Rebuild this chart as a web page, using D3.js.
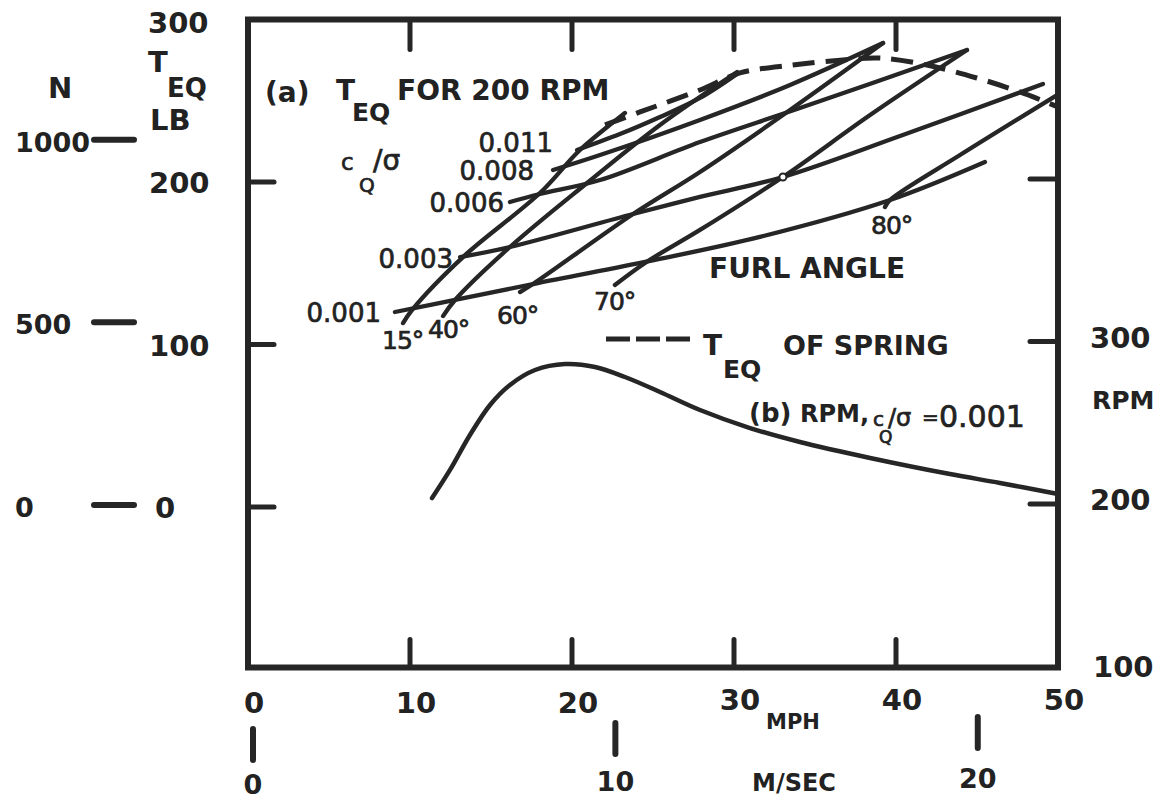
<!DOCTYPE html>
<html>
<head>
<meta charset="utf-8">
<script src="https://cdn.jsdelivr.net/npm/d3@7"></script>
<style>
  body { margin: 0; background: #ffffff; }
  svg { display: block; }
  text { font-family: "DejaVu Sans", "Liberation Sans", sans-serif; fill: #222; }
  .b { font-weight: bold; }
  .m { stroke: #222; stroke-width: 0.7px; }
</style>
</head>
<body>
<svg id="chart" width="1161" height="801"></svg>
<script>
// ---- axis ticks ----
const mphTicks = [0, 10, 20, 30, 40, 50];
const mpsTicks = [0, 10, 20];
const lbTicks = [0, 100, 200];
const newtonTicks = [0, 500, 1000];
const rpmTicks = [100, 200, 300];
const innerMph = [10, 20, 30, 40];
const innerLb = [0, 100, 200];

// ---- (a) equilibrium torque for 200 rpm: [mph, lb] ----
// curves of constant cQ/sigma
const cq001 = [[9.07,120],[12.78,127.4],[17.59,137.2],[24.51,150.8],[31.6,166.2],[39.63,188.9],[45.49,212.3]];
const cq003 = [[13.09,153.8],[16.17,160],[23.77,180.3],[27.9,190.8],[33.02,203.1],[40.25,228.3],[49.07,260.3]];
const cq006 = [[16.17,187.7],[18.02,192.6],[21.73,201.2],[27.9,224.6],[34.07,245.5],[44.38,281.2]];
const cq008 = [[18.83,207.4],[21.73,216.6],[27.9,238.2],[33.46,259.7],[39.2,285.5]];
const cq011 = [[20.31,219.7],[22.96,229.5],[25.43,240],[27.9,251.7],[30.19,266.5]];
// curves of constant furl angle
const furl15 = [[9.57,113.2],[10.12,121.2],[13.27,153.8],[18.02,193.2],[20.49,219.7],[23.27,242.5]];
const furl40 = [[12.04,117.5],[12.78,127.4],[16.17,160],[20.93,199.4],[25.43,235.1],[30.19,267.7]];
const furl60 = [[16.79,132.3],[17.59,137.2],[23.77,180.3],[27.9,206.2],[33.46,244.3],[39.2,285.5]];
const furl70 = [[22.65,136.6],[24.51,150.2],[27.9,170.5],[33.02,203.1],[38.4,241.2],[44.38,281.2]];
const furl80 = [[39.32,184.6],[39.63,188.9],[43.95,216.6],[49.94,253.5]];
// equilibrium torque of the spring
const spring = [[22.04,235.1],[24.2,243.1],[27.9,256.6],[30.37,267.1],[33.64,272],[36.73,275.1],[39.01,276.3],[41.91,272],[44.99,264],[47.65,255.4],[50,246.2]];

// ---- (b) rotor speed, cQ/sigma = 0.001: [mph, rpm] ----
const rpmCurve = [[11.36,205.5],[12.47,222.8],[13.7,244.3],[14.94,262.8],[16.17,275.1],[17.72,284.3],[19.57,288],[21.42,286.2],[23.27,280],[25.43,270.8],[27.9,259.7],[30.99,248.6],[34.07,240],[38.4,230.2],[43.33,220.3],[46.42,214.8],[50,208]];

const svg = d3.select("#chart");
const ink = "#262626";

// scales (all vertical scales share one frame)
const x = d3.scaleLinear().domain([0, 50]).range([248, 1058]);
const xMs = d3.scaleLinear().domain([0, 50 * 0.44704]).range([248, 1058]);
const yLb = d3.scaleLinear().domain([-100, 300]).range([669.5, 19.5]);
const yRpm = d3.scaleLinear().domain([100, 500]).range([669.5, 19.5]);
const yN = d3.scaleLinear().domain([-100 * 4.44822, 300 * 4.44822]).range([669.5, 19.5]);

const [x0, x1] = x.range();
const [yb, yt] = yLb.range();

// frame
svg.append("rect")
  .attr("x", x0).attr("y", yt).attr("width", x1 - x0).attr("height", yb - yt - 2)
  .attr("fill", "none").attr("stroke", ink).attr("stroke-width", 6);

// inner ticks
const tickG = svg.append("g").attr("stroke", ink).attr("stroke-width", 5).attr("stroke-linecap", "round");
innerMph.forEach(v => {
  tickG.append("line").attr("x1", x(v)).attr("x2", x(v)).attr("y1", yt).attr("y2", yt + 30);
  tickG.append("line").attr("x1", x(v)).attr("x2", x(v)).attr("y1", yb - 2).attr("y2", yb - 30);
});
innerLb.forEach(v => {
  tickG.append("line").attr("x1", x0).attr("x2", x0 + 26).attr("y1", yLb(v)).attr("y2", yLb(v));
  tickG.append("line").attr("x1", x1).attr("x2", x1 - 28).attr("y1", yLb(v) - 3).attr("y2", yLb(v) - 3);
});

// left torque axis labels
const lbG = svg.append("g").attr("class", "b").style("font-size", "29px");
lbTicks.forEach(v => {
  lbG.append("text").attr("x", v === 0 ? 155 : 149).attr("y", yLb(v) + 11).text(v);
});
lbG.append("text").attr("x", 148).attr("y", 33).text("300");
lbG.append("text").attr("x", 148).attr("y", 72).text("T");
lbG.append("text").attr("x", 167).attr("y", 97).style("font-size", "26px").text("EQ");
lbG.append("text").attr("x", 150).attr("y", 130).text("LB");

// newton axis
const nG = svg.append("g").attr("class", "b").style("font-size", "27px");
nG.append("text").attr("x", 48).attr("y", 98).style("font-size", "29px").text("N");
newtonTicks.forEach(v => {
  nG.append("text").attr("x", 15).attr("y", yN(v) + 10).text(v);
  nG.append("line").attr("x1", 94).attr("x2", 134).attr("y1", yN(v) - 2).attr("y2", yN(v) - 2)
    .attr("stroke", ink).attr("stroke-width", 6).attr("stroke-linecap", "round");
});

// right rpm axis
const rG = svg.append("g").attr("class", "b").style("font-size", "29px");
rpmTicks.forEach(v => {
  rG.append("text").attr("x", v === 100 ? 1093 : 1090).attr("y", yRpm(v) + (v === 100 ? 7 : 3)).text(v);
});
rG.append("text").attr("x", 1092).attr("y", 409).style("font-size", "25px").text("RPM");

// bottom mph axis
const bG = svg.append("g").attr("class", "b").style("font-size", "29px").attr("text-anchor", "middle");
mphTicks.forEach(v => {
  bG.append("text").attr("x", x(v) + 6).attr("y", 713 - (v >= 30 ? 3 : 0)).text(v);
});
svg.append("text").attr("class", "b").attr("x", 766).attr("y", 729).style("font-size", "21px").text("MPH");

// metres per second axis
mpsTicks.forEach(v => {
  svg.append("line").attr("x1", xMs(v) + 5).attr("x2", xMs(v) + 5)
    .attr("y1", 729 - v * 0.6).attr("y2", 760 - v * 0.6)
    .attr("stroke", ink).attr("stroke-width", 6).attr("stroke-linecap", "round");
  svg.append("text").attr("class", "b").attr("text-anchor", "middle")
    .attr("x", xMs(v) + 5).attr("y", 794 - v * 0.3).style("font-size", "27px").text(v);
});
svg.append("text").attr("class", "b").attr("x", 752).attr("y", 791).style("font-size", "24px").text("M/SEC");

// curves
const torqueLine = d3.line().x(d => x(d[0])).y(d => yLb(d[1])).curve(d3.curveCatmullRom.alpha(0.5));
const rpmLine = d3.line().x(d => x(d[0])).y(d => yRpm(d[1])).curve(d3.curveCatmullRom.alpha(0.5));

const grid = [cq001, cq003, cq006, cq008, cq011, furl15, furl40, furl60, furl70, furl80];
svg.append("g").selectAll("path").data(grid).join("path")
  .attr("d", torqueLine)
  .attr("fill", "none").attr("stroke", ink).attr("stroke-width", 4.3)
  .attr("stroke-linecap", "round").attr("stroke-linejoin", "round");

svg.append("path").attr("d", torqueLine(spring))
  .attr("fill", "none").attr("stroke", ink).attr("stroke-width", 5)
  .attr("stroke-dasharray", "22,11");

svg.append("path").attr("d", rpmLine(rpmCurve))
  .attr("fill", "none").attr("stroke", ink).attr("stroke-width", 4.5)
  .attr("stroke-linecap", "round");

// small open marker on the 0.003 curve
svg.append("circle").attr("cx", x(33.02)).attr("cy", yLb(203.1)).attr("r", 3.5)
  .attr("fill", "#fff").attr("stroke", ink).attr("stroke-width", 2);

// annotations
const ann = svg.append("g");
const title = ann.append("g").attr("class", "b").style("font-size", "28px");
title.append("text").attr("x", 265).attr("y", 102).text("(a)");
title.append("text").attr("x", 336).attr("y", 100).text("T");
title.append("text").attr("x", 352).attr("y", 121).style("font-size", "25px").text("EQ");
title.append("text").attr("x", 397).attr("y", 100).text("FOR 200 RPM");

const cLabels = [["0.011", 553, 152], ["0.008", 534, 180], ["0.006", 504, 212], ["0.003", 453, 268], ["0.001", 381, 322]];
ann.append("g").attr("class", "m").style("font-size", "26px").attr("text-anchor", "end")
  .selectAll("text").data(cLabels).join("text")
  .attr("x", d => d[1]).attr("y", d => d[2]).text(d => d[0]);

const cq = ann.append("g").attr("class", "m");
cq.append("text").attr("x", 341).attr("y", 170).style("font-size", "23px").text("c");
cq.append("text").attr("x", 359).attr("y", 192).style("font-size", "20px").text("Q");
cq.append("text").attr("x", 373).attr("y", 170).style("font-size", "28px").text("/σ");

const fLabels = [["15°", 382, 349], ["40°", 428, 338], ["60°", 497, 324], ["70°", 594, 310], ["80°", 871, 234]];
ann.append("g").attr("class", "m").style("font-size", "25px").style("letter-spacing", "-1px")
  .selectAll("text").data(fLabels).join("text")
  .attr("x", d => d[1]).attr("y", d => d[2]).text(d => d[0]);

ann.append("text").attr("class", "b").attr("x", 709).attr("y", 278).style("font-size", "28px").text("FURL ANGLE");

// spring legend
ann.append("line").attr("x1", 606).attr("x2", 690).attr("y1", 339).attr("y2", 339)
  .attr("stroke", ink).attr("stroke-width", 5).attr("stroke-dasharray", "24,6");
const lg = ann.append("g").attr("class", "b").style("font-size", "28px");
lg.append("text").attr("x", 703).attr("y", 355).text("T");
lg.append("text").attr("x", 723).attr("y", 378).style("font-size", "25px").text("EQ");
lg.append("text").attr("x", 783).attr("y", 355).style("font-size", "27px").text("OF SPRING");

// rpm curve label
const bl = ann.append("g");
bl.append("text").attr("class", "b").attr("x", 749).attr("y", 422).style("font-size", "26px").text("(b)");
bl.append("text").attr("class", "b").attr("x", 800).attr("y", 422).style("font-size", "24px").text("RPM,");
bl.append("text").attr("class", "m").attr("x", 873).attr("y", 426).style("font-size", "20px").text("c");
bl.append("text").attr("class", "m").attr("x", 879).attr("y", 443).style("font-size", "17px").text("Q");
bl.append("text").attr("class", "m").attr("x", 888).attr("y", 426).style("font-size", "24px").text("/σ");
bl.append("text").attr("class", "m").attr("x", 922).attr("y", 424).style("font-size", "20px").text("=");
bl.append("text").attr("class", "m").attr("x", 939).attr("y", 427).style("font-size", "30px").text("0.001");
</script>
</body>
</html>
